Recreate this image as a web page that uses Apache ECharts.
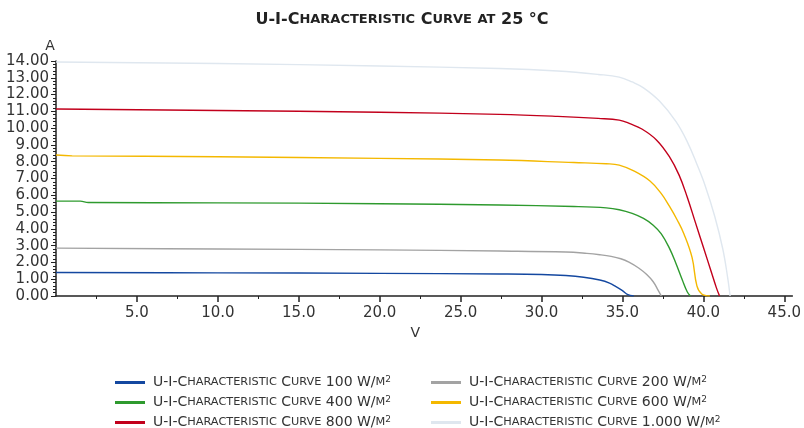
<!DOCTYPE html>
<html><head><meta charset="utf-8">
<script src="https://cdn.jsdelivr.net/npm/echarts@6/dist/echarts.min.js"></script>
<style>html,body{margin:0;padding:0;background:#fff}#c{width:804px;height:428px}</style>
</head><body><div id="c"></div>
<script>
// ---- data ----
const chartTitle = 'U-I-Characteristic Curve at 25 °C';
const xTickValues = [5, 10, 15, 20, 25, 30, 35, 40, 45];
const xMinorValues = [2.5, 7.5, 12.5, 17.5, 22.5, 27.5, 32.5, 37.5, 42.5];
const seriesNames = [
  'U-I-Characteristic Curve 100 W/m²',
  'U-I-Characteristic Curve 200 W/m²',
  'U-I-Characteristic Curve 400 W/m²',
  'U-I-Characteristic Curve 600 W/m²',
  'U-I-Characteristic Curve 800 W/m²',
  'U-I-Characteristic Curve 1.000 W/m²'
];
const u100 = [0, 10, 20, 27.4, 30, 31.5, 32.6, 33.6, 34.2, 34.6, 35.0, 35.3, 35.7];
const i100 = [1.40, 1.38, 1.35, 1.31, 1.28, 1.22, 1.12, 0.95, 0.77, 0.56, 0.32, 0.10, 0.0];
const u200 = [0, 10, 20, 27.4, 31.5, 32.8, 33.6, 34.3, 34.9, 35.4, 36.0, 36.5, 36.9, 37.2, 37.4];
const i200 = [2.85, 2.80, 2.75, 2.68, 2.62, 2.54, 2.46, 2.36, 2.22, 2.02, 1.67, 1.28, 0.85, 0.35, 0.0];
const u400 = [0, 1.5, 2, 10, 20, 27.4, 32, 34.0, 34.8, 35.6, 36.3, 36.9, 37.4, 37.9, 38.3, 38.7, 39.0, 39.2];
const i400 = [5.65, 5.65, 5.57, 5.55, 5.50, 5.42, 5.33, 5.25, 5.14, 4.92, 4.62, 4.22, 3.70, 2.85, 1.95, 0.95, 0.25, 0.0];
const u600 = [0, 1, 10, 20, 27.4, 32, 34.0, 34.8, 35.7, 36.7, 37.4, 37.9, 38.4, 38.8, 39.3, 39.6, 39.9, 40.4];
const i600 = [8.40, 8.35, 8.30, 8.20, 8.10, 7.95, 7.88, 7.80, 7.45, 6.85, 6.10, 5.35, 4.50, 3.70, 2.30, 0.60, 0.12, 0.0];
const u800 = [0, 10, 20, 27.4, 31, 33.5, 34.8, 35.5, 36.2, 37.1, 37.9, 38.5, 39.0, 39.5, 40.0, 40.5, 40.8, 41.0];
const i800 = [11.14, 11.05, 10.95, 10.82, 10.70, 10.58, 10.48, 10.25, 9.95, 9.30, 8.30, 7.20, 5.90, 4.40, 2.90, 1.40, 0.50, 0.0];
const u1000 = [0, 10, 20, 27.4, 31, 33.5, 34.8, 35.6, 36.3, 37.3, 38.3, 39.0, 39.6, 40.1, 40.7, 41.2, 41.5, 41.65];
const i1000 = [13.94, 13.85, 13.70, 13.55, 13.40, 13.20, 13.04, 12.75, 12.40, 11.60, 10.40, 9.20, 7.85, 6.60, 4.75, 2.80, 1.10, 0.0];
const colors = ['#1448a0', '#a3a3a3', '#2e9a2e', '#f4b800', '#c2001c', '#dfe7ef'];
// ---- chart ----
const us = [u100, u200, u400, u600, u800, u1000];
const is = [i100, i200, i400, i600, i800, i1000];

function smallCaps(str) {
  let out = '', cur = null, buf = '';
  for (const ch of str) {
    let t, c;
    if (ch === '²') { t = 'p'; c = '2'; }
    else if (/[a-z]/.test(ch)) { t = 's'; c = ch.toUpperCase(); }
    else { t = 'b'; c = ch; }
    if (t !== cur) { if (cur) out += '{' + cur + '|' + buf + '}'; cur = t; buf = ''; }
    buf += c;
  }
  if (cur) out += '{' + cur + '|' + buf + '}';
  return out;
}

const FONT = 'DejaVu Sans';
const legRich = {
  b: { fontFamily: FONT, fontSize: 14, color: '#333' },
  s: { fontFamily: FONT, fontSize: 11.3, color: '#333' },
  p: { fontFamily: FONT, fontSize: 9, color: '#333', verticalAlign: 'top', padding: [0, 0, 6, 0] }
};

const series = seriesNames.map((n, k) => ({
  name: n, type: 'line', showSymbol: false, symbol: 'none',
  smooth: 0.4,
  lineStyle: { color: colors[k], width: 1.4 }, itemStyle: { color: colors[k] },
  data: us[k].map((u, j) => [u, is[k][j]])
}));

const legendRows = [381, 401, 421];
const legendCols = [110, 426];
const legends = seriesNames.map((n, k) => ({
  orient: 'horizontal', icon: 'rect', itemWidth: 30, itemHeight: 3,
  left: legendCols[k % 2], top: legendRows[Math.floor(k / 2)] - 11,
  data: [n],
  formatter: s => smallCaps(s),
  textStyle: { rich: legRich, fontFamily: FONT, fontSize: 14, color: '#333', padding: [0, 0, 0, 3] }
}));

const chart = echarts.init(document.getElementById('c'));
chart.setOption({
  animation: false,
  backgroundColor: '#fff',
  title: {
    text: smallCaps(chartTitle), left: 'center', top: 7,
    textStyle: {
      rich: {
        b: { fontFamily: FONT, fontSize: 16, fontWeight: 'bold', color: '#222' },
        s: { fontFamily: FONT, fontSize: 13, fontWeight: 'bold', color: '#222' },
        p: { fontFamily: FONT, fontSize: 10, fontWeight: 'bold', color: '#222' }
      }
    }
  },
  legend: legends,
  grid: { left: 56, right: 11, top: 61, bottom: 132, containLabel: false },
  xAxis: [{
    type: 'value', min: 0, max: 45.5,
    name: 'V', nameLocation: 'middle', nameGap: 29,
    nameTextStyle: { fontFamily: FONT, fontSize: 14, color: '#333', padding: [0, 18, 0, 0] },
    axisLine: { lineStyle: { color: '#222', width: 1.5 } },
    axisTick: { show: true, length: 6, customValues: xTickValues, lineStyle: { color: '#222', width: 1.5 } },
    axisLabel: { customValues: xTickValues, formatter: v => v.toFixed(1), margin: 10, fontFamily: FONT, fontSize: 15, color: '#333' },
    splitLine: { show: false }
  }, {
    type: 'value', min: 0, max: 45.5, position: 'bottom',
    axisLine: { show: false },
    axisTick: { show: true, length: 3, customValues: xMinorValues, lineStyle: { color: '#222', width: 1 } },
    axisLabel: { show: false },
    splitLine: { show: false }
  }],
  yAxis: {
    type: 'value', min: 0, max: 14, interval: 1,
    name: 'A', nameLocation: 'end', nameGap: 8,
    nameTextStyle: { fontFamily: FONT, fontSize: 14, color: '#333', padding: [0, 12, 0, 0] },
    axisLine: { show: true, lineStyle: { color: '#222', width: 1.5 } },
    axisTick: { show: true, length: 5, lineStyle: { color: '#222', width: 1 } },
    minorTick: { show: true, splitNumber: 5, length: 3, lineStyle: { color: '#222', width: 1 } },
    axisLabel: { formatter: v => v.toFixed(2), margin: 7, fontFamily: FONT, fontSize: 15, color: '#333' },
    splitLine: { show: false }
  },
  series: series
});
</script></body></html>
